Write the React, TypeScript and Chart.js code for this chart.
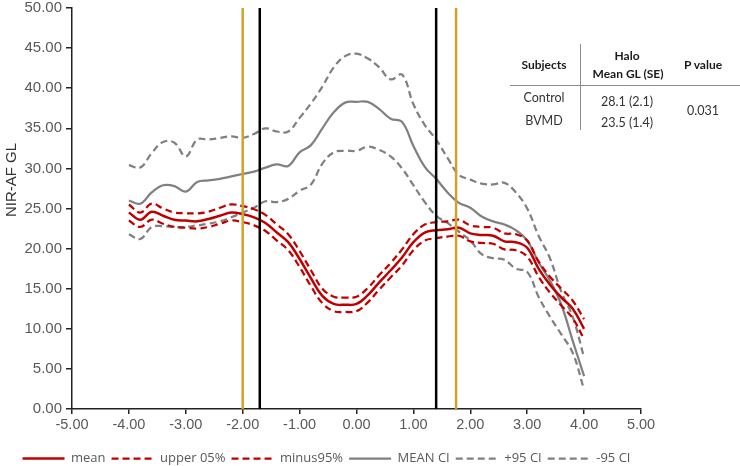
import React, { useEffect, useRef } from "react";
import { Chart, registerables } from "chart.js";

Chart.register(...registerables);

const xValues = [
  -4.0, -3.8, -3.6, -3.4, -3.2, -3.0, -2.8, -2.6, -2.4, -2.2, -2.0, -1.8, -1.6, -1.4,
  -1.2, -1.0, -0.8, -0.6, -0.4, -0.2, 0.0, 0.2, 0.4, 0.6, 0.8, 1.0, 1.2, 1.4, 1.6, 1.8,
  2.0, 2.2, 2.4, 2.6, 2.8, 3.0, 3.2, 3.4, 3.6, 3.8, 4.0,
];

const meanValues = [
  24.5, 23.6, 24.6, 24.1, 23.6, 23.5, 23.4, 23.7, 24.1, 24.5, 24.3, 23.9, 23.2, 22.0,
  20.8, 18.7, 16.3, 14.1, 13.1, 13.0, 13.1, 14.2, 15.8, 17.3, 18.9, 20.8, 22.0, 22.3,
  22.4, 22.6, 21.9, 21.7, 21.6, 20.9, 20.8, 20.1, 17.5, 15.5, 13.9, 12.5, 10.0,
];

const upperValues = [
  25.5, 24.5, 25.6, 25.0, 24.5, 24.4, 24.4, 24.6, 25.1, 25.5, 25.3, 24.9, 24.2, 23.0,
  21.8, 19.7, 17.3, 15.0, 14.0, 13.9, 14.0, 15.1, 16.7, 18.2, 19.9, 21.8, 23.0, 23.3,
  23.4, 23.6, 22.9, 22.7, 22.6, 21.9, 21.8, 21.0, 18.4, 16.5, 15.0, 13.5, 11.2,
];

const minusValues = [
  23.5, 22.7, 23.6, 23.1, 22.7, 22.6, 22.5, 22.7, 23.1, 23.5, 23.3, 22.9, 22.2, 21.0,
  19.8, 17.7, 15.3, 13.2, 12.2, 12.1, 12.2, 13.3, 14.9, 16.4, 17.9, 19.8, 21.0, 21.3,
  21.5, 21.6, 20.9, 20.7, 20.6, 19.9, 19.8, 19.0, 16.5, 14.5, 12.9, 11.3, 8.7,
];

const meanCiValues = [
  26.0, 25.6, 27.0, 27.9, 27.8, 27.1, 28.3, 28.5, 28.7, 29.0, 29.3, 29.6, 30.1, 30.5,
  30.3, 32.0, 32.9, 35.0, 37.0, 38.2, 38.3, 38.3, 37.4, 36.2, 35.8, 32.8, 30.2, 28.7,
  27.0, 25.7, 25.1, 24.0, 23.4, 23.0, 22.3, 21.0, 18.3, 16.0, 13.0, 8.5, 4.1,
];

const plus95Values = [
  30.4, 30.1, 31.9, 33.3, 33.2, 31.5, 33.6, 33.6, 33.8, 34.0, 33.8, 34.3, 35.0, 34.6,
  34.6, 36.3, 38.1, 40.2, 42.6, 44.0, 44.3, 43.7, 42.6, 41.1, 41.7, 38.0, 35.4, 33.6,
  31.3, 29.2, 28.6, 28.1, 28.0, 28.2, 27.0, 25.0, 21.6, 18.8, 14.6, 11.5, 6.4,
];

const minus95Values = [
  21.8, 21.2, 22.7, 22.8, 22.7, 22.7, 22.9, 23.1, 23.4, 23.9, 24.5, 25.1, 25.9, 25.8,
  26.2, 27.2, 28.0, 30.6, 32.0, 32.2, 32.2, 32.7, 32.3, 31.5, 30.0, 27.9, 25.8, 24.1,
  23.2, 22.1, 21.0, 19.3, 18.8, 18.6, 17.5, 17.1, 14.0, 11.5, 9.3, 7.0, 2.4,
];

const goldLines = [-2.0, 1.75];
const blackLines = [-1.7, 1.4];

const seriesLabels = ["mean", "upper 05%", "minus95%", "MEAN CI", "+95 CI", "-95 CI"];
const yAxisTitle = "NIR-AF GL";

const RED = "#C00000";
const GRAY = "#808080";
const GOLD = "#D4A02C";
const CANVAS_OFFSET = -5;

function pts(vals: number[]) {
  return xValues.map((x, i) => ({ x, y: vals[i] }));
}

function vline(v: number) {
  return [
    { x: v, y: 0 },
    { x: v, y: 50 },
  ];
}

const yTitlePlugin = {
  id: "yTitleFixed",
  afterDraw(chart: any) {
    const ctx = chart.ctx;
    ctx.save();
    ctx.translate(12, 180 - CANVAS_OFFSET);
    ctx.rotate(-Math.PI / 2);
    ctx.textAlign = "center";
    ctx.textBaseline = "middle";
    ctx.fillStyle = "#333333";
    ctx.font = "15px 'Liberation Sans', Arial, sans-serif";
    ctx.fillText(yAxisTitle, 0, 0);
    ctx.restore();
  },
};

export default function App() {
  const ref = useRef<HTMLCanvasElement | null>(null);

  useEffect(() => {
    if (!ref.current) return;
    const dash = [7, 4];
    const series = [
      { label: seriesLabels[0], data: pts(meanValues), borderColor: RED, borderWidth: 2.5, borderDash: [] as number[] },
      { label: seriesLabels[1], data: pts(upperValues), borderColor: RED, borderWidth: 2.25, borderDash: dash },
      { label: seriesLabels[2], data: pts(minusValues), borderColor: RED, borderWidth: 2.25, borderDash: dash },
      { label: seriesLabels[3], data: pts(meanCiValues), borderColor: GRAY, borderWidth: 2.25, borderDash: [] as number[] },
      { label: seriesLabels[4], data: pts(plus95Values), borderColor: GRAY, borderWidth: 2.25, borderDash: dash },
      { label: seriesLabels[5], data: pts(minus95Values), borderColor: GRAY, borderWidth: 2.25, borderDash: dash },
    ].map((d) => ({
      ...d,
      backgroundColor: d.borderColor,
      pointRadius: 0,
      tension: 0.4,
      fill: false,
    }));
    const verticals = [
      ...goldLines.map((v) => ({ label: "_gold", data: vline(v), borderColor: GOLD })),
      ...blackLines.map((v) => ({ label: "_black", data: vline(v), borderColor: "#000000" })),
    ].map((d) => ({
      ...d,
      backgroundColor: d.borderColor,
      borderWidth: 2.5,
      pointRadius: 0,
      tension: 0,
      fill: false,
      order: -1,
    }));

    const defaultGen = (Chart as any).defaults.plugins.legend.labels.generateLabels;

    const chart = new Chart(ref.current, {
      type: "line",
      data: { datasets: [...series, ...verticals] as any },
      plugins: [yTitlePlugin],
      options: {
        animation: false,
        responsive: false,
        devicePixelRatio: 1,
        layout: { padding: { left: 12, right: 99, top: 0, bottom: 0 } },
        plugins: {
          tooltip: { enabled: false },
          legend: {
            position: "bottom",
            align: "center",
            labels: {
              generateLabels: (chart: any) =>
                defaultGen(chart).map((it: any) => {
                  const ds = chart.data.datasets[it.datasetIndex];
                  return {
                    ...it,
                    lineDash: ds.borderDash,
                    lineWidth: ds.borderWidth,
                    strokeStyle: ds.borderColor,
                    fillStyle: ds.borderColor,
                  };
                }),
              filter: (item: any) => !String(item.text).startsWith("_"),
              usePointStyle: true,
              pointStyle: "line",
              pointStyleWidth: 42,
              padding: 6,
              color: "#595959",
              font: { family: "'Open Sans', sans-serif", size: 13 },
            },
          },
        },
        scales: {
          x: {
            type: "linear",
            min: -5,
            max: 5,
            ticks: {
              stepSize: 1,
              color: "#595959",
              padding: 2,
              font: { family: "'Liberation Sans', Arial, sans-serif", size: 14.5 },
              callback: (v: any) => Number(v).toFixed(2),
            },
            grid: { drawOnChartArea: false, drawTicks: true, tickLength: 5, color: "#222", lineWidth: 1.5 },
            border: { display: true, color: "#222", width: 1.5 },
            afterFit: (s: any) => {
              s.height = 37;
            },
          },
          y: {
            type: "linear",
            min: 0,
            max: 50,
            ticks: {
              stepSize: 5,
              color: "#595959",
              padding: 4,
              font: { family: "'Liberation Sans', Arial, sans-serif", size: 15 },
              callback: (v: any) => Number(v).toFixed(2),
            },
            grid: { drawOnChartArea: false, drawTicks: true, tickLength: 6, color: "#222", lineWidth: 1.5 },
            border: { display: true, color: "#222", width: 1.5 },
            afterFit: (s: any) => {
              s.width = 60;
            },
          },
        },
      },
    });
    return () => chart.destroy();
  }, []);

  const txt = (
    content: string,
    x: number,
    y: number,
    bold = false
  ): React.ReactElement => (
    <div
      key={content + x + y}
      style={{
        position: "absolute",
        left: x,
        top: y,
        transform: "translate(-50%, -50%)",
        whiteSpace: "nowrap",
        fontFamily: "Lato, 'Open Sans', sans-serif",
        fontSize: bold ? 12 : 12.5,
        fontWeight: bold ? 700 : 400,
        color: bold ? "#1a1a1a" : "#333333",
        lineHeight: 1,
      }}
    >
      {content}
    </div>
  );

  return (
    <div
      style={{
        position: "fixed",
        left: 0,
        top: 0,
        width: 740,
        height: 466,
        overflow: "hidden",
        background: "#ffffff",
      }}
    >
      <canvas
        ref={ref}
        width={740}
        height={480}
        style={{ position: "absolute", left: 0, top: CANVAS_OFFSET, display: "block", width: 740, height: 480 }}
      />
      <div style={{ position: "absolute", left: 510, top: 85, width: 230, height: 1, background: "#8c8c8c" }} />
      <div style={{ position: "absolute", left: 580, top: 44, width: 1, height: 86, background: "#8c8c8c" }} />
      {txt("Subjects", 544, 65, true)}
      {txt("Halo", 627, 56, true)}
      {txt("Mean GL (SE)", 628, 74, true)}
      {txt("P value", 703, 65, true)}
      {txt("Control", 544, 98)}
      {txt("BVMD", 544, 121)}
      {txt("28.1 (2.1)", 627, 102)}
      {txt("23.5 (1.4)", 627, 123)}
      {txt("0.031", 703, 111)}
    </div>
  );
}
